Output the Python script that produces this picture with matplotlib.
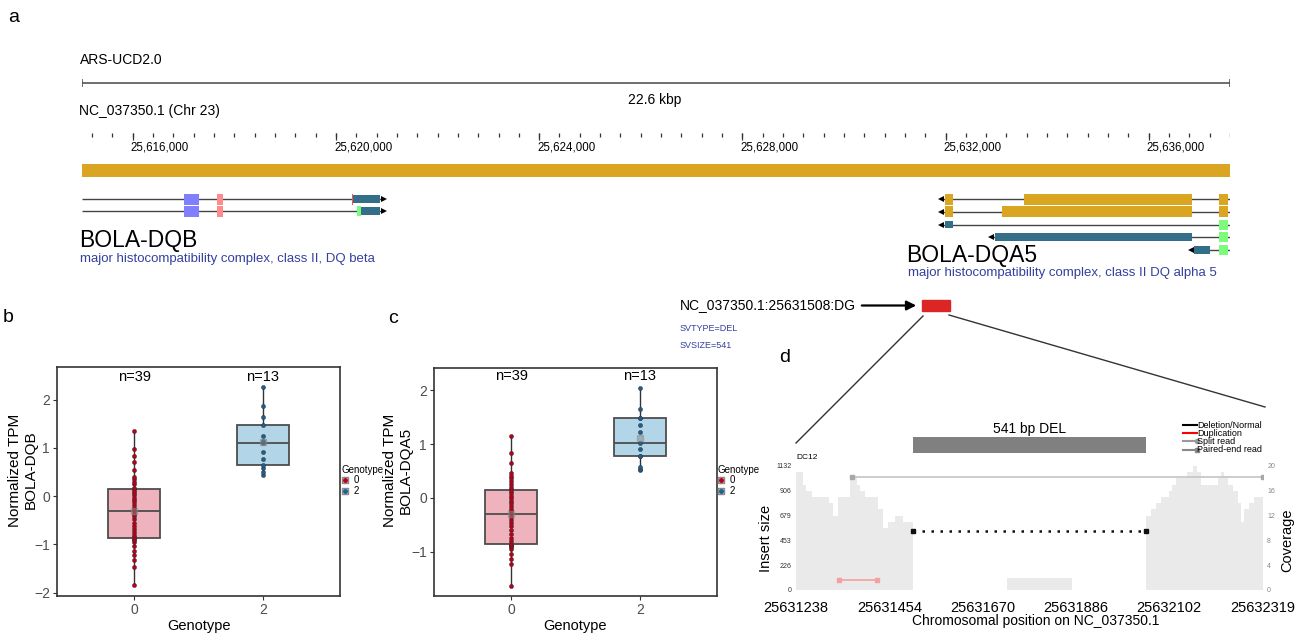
import matplotlib.pyplot as plt
import numpy as np
from matplotlib.lines import Line2D
from matplotlib.patches import Rectangle

plt.rcParams['font.family'] = ['Liberation Sans', 'DejaVu Sans']

W, H = 1297, 637

# ---------------- panel a data (bp) ----------------
assembly = 'ARS-UCD2.0'
chrom_label = 'NC_037350.1 (Chr 23)'
region = (25615000, 25637600)
region_label = '22.6 kbp'
major_ticks = [25616000, 25620000, 25624000, 25628000, 25632000, 25636000]
minor_ticks = np.arange(25615200, 25637601, 400)

# transcripts: (line start, line end, arrow pos, strand, exons[(start, end, kind)])
dqb_transcripts = [
    (25615000, 25620955, 25620955, '+',
     [(25617008, 25617303, 'blue'), (25617658, 25617776, 'pink'),
      (25620310, 25620340, 'red'), (25620340, 25620867, 'teal')]),
    (25615000, 25620955, 25620955, '+',
     [(25617008, 25617303, 'blue'), (25617658, 25617776, 'pink'),
      (25620414, 25620493, 'green'), (25620493, 25620867, 'teal')]),
]
dqa5_transcripts = [
    (25631911, 25637600, 25631911, '-',
     [(25631990, 25632147, 'gold'), (25633545, 25636852, 'gold'), (25637384, 25637561, 'gold')]),
    (25631911, 25637600, 25631911, '-',
     [(25631990, 25632147, 'gold'), (25633112, 25636852, 'gold'), (25637384, 25637561, 'gold')]),
    (25631911, 25637600, 25631911, '-',
     [(25631990, 25632147, 'teal_s'), (25637384, 25637561, 'green')]),
    (25632895, 25637600, 25632895, '-',
     [(25632974, 25636852, 'teal'), (25637384, 25637561, 'green')]),
    (25636832, 25637600, 25636832, '-',
     [(25636891, 25637207, 'teal'), (25637384, 25637561, 'green')]),
]
dqb_name, dqb_desc = 'BOLA-DQB', 'major histocompatibility complex, class II, DQ beta'
dqa5_name, dqa5_desc = 'BOLA-DQA5', 'major histocompatibility complex, class II DQ alpha 5'

# ---------------- panel b / c data ----------------
genotypes = ['0', '2']
dqb_g0 = [-1.85, -1.46, -1.33, -1.22, -1.14, -1.04, -0.95, -0.90, -0.88, -0.87,
          -0.845, -0.80, -0.74, -0.68, -0.62, -0.55, -0.48, -0.42, -0.36, -0.30,
          -0.25, -0.19, -0.13, -0.08, -0.03, 0.02, 0.06, 0.10, 0.14, 0.17,
          0.25, 0.30, 0.35, 0.39, 0.54, 0.71, 0.84, 0.98, 1.36]
dqb_g2 = [0.443, 0.498, 0.58, 0.637, 0.768, 0.913, 1.107, 1.135, 1.245, 1.48,
          1.653, 1.875, 2.27]
dqa5_g0 = [-1.63, -1.23, -1.13, -1.04, -0.95, -0.91, -0.89, -0.88, -0.87, -0.865,
           -0.855, -0.80, -0.74, -0.67, -0.60, -0.53, -0.47, -0.41, -0.35, -0.30,
           -0.25, -0.20, -0.15, -0.10, -0.05, -0.01, 0.04, 0.09, 0.13, 0.16,
           0.21, 0.26, 0.31, 0.36, 0.40, 0.47, 0.64, 0.83, 1.15]
dqa5_g2 = [0.52, 0.545, 0.58, 0.775, 0.78, 0.90, 1.015, 1.23, 1.35, 1.48,
           1.49, 1.645, 2.035]

# ---------------- panel d data ----------------
sv_id = 'NC_037350.1:25631508:DG'
sv_type = 'SVTYPE=DEL'
sv_size = 'SVSIZE=541'
sv_start, sv_end = 25631508, 25632049
sample = 'DC12'
d_xticks = [25631238, 25631454, 25631670, 25631886, 25632102, 25632319]
ins_ticks = [0, 226, 453, 679, 906, 1132]
cov_ticks = [0, 4, 8, 12, 16, 20]
cov_left_edges = [25631238, 25631254, 25631261, 25631275, 25631315, 25631324, 25631335,
                  25631363, 25631380, 25631386, 25631398, 25631428, 25631440, 25631451,
                  25631468, 25631486, 25631509]
cov_left = [19, 17, 16, 15, 14, 12, 15, 18, 17, 16, 15, 13, 10, 11, 12, 11]
cov_mid_edges = [25631727, 25631876]
cov_mid = [2]
cov_right_edges = [25632048, 25632059, 25632071, 25632082, 25632094, 25632102, 25632109,
                   25632117, 25632129, 25632144, 25632156, 25632167, 25632175, 25632191,
                   25632214, 25632222, 25632229, 25632237, 25632249, 25632260, 25632268,
                   25632276, 25632287, 25632299, 25632307, 25632319]
cov_right = [12, 13, 14, 15, 15, 16, 17, 18, 18, 19, 20, 19, 17, 17, 18, 19, 18, 17,
             16, 14, 11, 13, 14, 15, 15]
pe_read = (25631367, 25632318, 1030)
dup_read = (25631338, 25631426, 91)
del_read = (sv_start, sv_end, 541)

# ---------------- styles ----------------
exon_style = {
    'blue': ('#8080FF', 11), 'pink': ('#FF8C8C', 11), 'red': ('#FF5050', 11),
    'teal': ('#336F88', 8), 'teal_s': ('#336F88', 6.5), 'green': ('#7CFC7C', 10),
    'gold': ('#DAA520', 11),
}
fill0, fill2 = '#EFB3BE', '#B3D5E8'
pt0, pt2 = '#B8001C', '#1F5F8F'
blue_txt = '#33409F'

fig = plt.figure(figsize=(W / 100, H / 100), dpi=100)


def px_axes(x0, y0, x1, y1, **kw):
    return fig.add_axes([x0 / W, 1 - y1 / H, (x1 - x0) / W, (y1 - y0) / H], **kw)


def ftext(x, y, s, **kw):
    kw.setdefault('va', 'center')
    return fig.text(x / W, 1 - y / H, s, **kw)


# ---------------- panel a ----------------
ax_a = px_axes(82, 0, 1230, 290)
ax_a.set_xlim(*region)
ax_a.set_ylim(290, 0)
ax_a.axis('off')

ftext(8, 18, 'a', fontsize=14)
ftext(80, 60, assembly, fontsize=10)
ax_a.hlines(83, *region, color='#555555', lw=1.2)
ax_a.vlines(region, 79, 87, color='#555555', lw=1.2)
ftext(655, 100, region_label, fontsize=10, ha='center')
ftext(79, 111, chrom_label, fontsize=10)
ax_a.vlines(minor_ticks, 133.3, 136.7, color='#333333', lw=0.9)
ax_a.vlines(major_ticks, 132.5, 139.5, color='#333333', lw=0.9)
for t in major_ticks:
    ax_a.text(t - 40, 148, f'{t:,}', fontsize=8.3, ha='left', va='center')
ax_a.broken_barh([(region[0], region[1] - region[0])], (164, 12.5), facecolors='#DAA520')


def draw_transcripts(rows, y0, dy):
    for i, (ls, le, ap, strand, exons) in enumerate(rows):
        y = y0 + i * dy
        ax_a.hlines(y, ls, le, color='#444444', lw=1)
        ax_a.plot(ap, y, marker='>' if strand == '+' else '<', color='black', ms=5, mew=0)
        for s, e, kind in exons:
            c, h = exon_style[kind]
            ax_a.broken_barh([(s, e - s)], (y - h / 2, h), facecolors=c, zorder=3)


draw_transcripts(dqb_transcripts, 199, 12)
draw_transcripts(dqa5_transcripts, 199, 12.8)

ftext(79, 240, dqb_name, fontsize=16.5)
ftext(80, 259, dqb_desc, fontsize=9.5, color=blue_txt)
ftext(906, 255, dqa5_name, fontsize=16.5)
ftext(908, 273, dqa5_desc, fontsize=9.5, color=blue_txt)


# ---------------- panels b / c ----------------
def box_panel(box, g0, g2, ylim, yticks, ylabel, ylab_x, letter_xy, leg_xy, n_y):
    ax = px_axes(*box)
    groups = [g0, g2]
    bp = ax.boxplot(groups, positions=[0, 1], widths=0.4, patch_artist=True,
                    showfliers=False, whis=1.5,
                    medianprops=dict(color='#4D4D4D', lw=1.3),
                    whiskerprops=dict(color='#333333', lw=1),
                    capprops=dict(visible=False),
                    boxprops=dict(edgecolor='#4D4D4D', lw=1.3))
    for patch, c in zip(bp['boxes'], [fill0, fill2]):
        patch.set_facecolor(c)
    for pos, vals, c in zip([0, 1], groups, [pt0, pt2]):
        ax.plot([pos] * len(vals), vals, 'o', color=c, ms=3, mec='#333333', mew=0.3, zorder=4)
        ax.plot(pos, np.mean(vals), 's', color='#888888', ms=4.5, alpha=0.5, zorder=5)
        ax.text(pos, n_y, f'n={len(vals)}', transform=ax.get_xaxis_transform(),
                ha='center', va='center', fontsize=10.5)
    ax.set_xlim(-0.6, 1.6)
    ax.set_ylim(*ylim)
    ax.set_yticks(yticks)
    ax.set_xticks([0, 1])
    ax.set_xticklabels(genotypes)
    ax.tick_params(length=3, width=0.8, color='#333333', labelcolor='#4D4D4D',
                   labelsize=10, pad=2)
    for sp in ax.spines.values():
        sp.set_linewidth(1.2)
        sp.set_color('#333333')
    cx = (box[0] + box[2]) / 2
    ftext(cx, 626, 'Genotype', fontsize=10.5, ha='center')
    ftext(ylab_x, 470, ylabel, fontsize=11, ha='center', rotation=90, linespacing=1.1)
    ftext(*letter_xy, fontsize=14)
    handles = [(Line2D([], [], marker='s', ls='', color=fill0, mec='#888888', ms=5),
                Line2D([], [], marker='o', ls='', color=pt0, ms=2.5)),
               (Line2D([], [], marker='s', ls='', color=fill2, mec='#888888', ms=5),
                Line2D([], [], marker='o', ls='', color=pt2, ms=2.5))]
    fig.legend(handles=handles, labels=genotypes, title='Genotype', loc='upper left',
               bbox_to_anchor=(leg_xy[0] / W, 1 - leg_xy[1] / H), frameon=False,
               fontsize=7, title_fontsize=7, handlelength=0.8, handletextpad=0.5,
               labelspacing=0.05, borderpad=0, borderaxespad=0, alignment='left')
    return ax


box_panel((57, 367, 340, 596), dqb_g0, dqb_g2, (-2.07, 2.68), [-2, -1, 0, 1, 2],
          'Normalized TPM\nBOLA-DQB', 23, (3, 318, 'b'), (341, 465), 0.957)
box_panel((434, 368, 717, 596), dqa5_g0, dqa5_g2, (-1.82, 2.41), [-1, 0, 1, 2],
          'Normalized TPM\nBOLA-DQA5', 398, (388, 319, 'c'), (717, 465), 0.963)

# ---------------- overlay: SV marker and zoom lines ----------------
ax_o = px_axes(0, 0, W, H)
ax_o.set_xlim(0, W)
ax_o.set_ylim(H, 0)
ax_o.axis('off')
ax_o.set_zorder(-1)
ftext(680, 305.5, sv_id, fontsize=10)
ftext(680, 328.5, sv_type, fontsize=6.5, color=blue_txt)
ftext(680, 345.5, sv_size, fontsize=6.5, color=blue_txt)
ax_o.annotate('', xy=(919, 305.5), xytext=(859, 305.5),
              arrowprops=dict(arrowstyle='-|>', color='black', lw=1.6, mutation_scale=14))
ax_o.add_patch(Rectangle((922, 300), 28, 11, color='#DC2626'))
ax_o.plot([923, 796], [316, 443], color='#333333', lw=1)
ax_o.plot([949, 1265], [315, 407], color='#333333', lw=1)
ftext(779, 358, 'd', fontsize=14)

# ---------------- panel d ----------------
ax_sv = px_axes(796, 437, 1263, 453)
ax_sv.set_xlim(d_xticks[0], d_xticks[-1])
ax_sv.axis('off')
ax_sv.barh(0, sv_end - sv_start, left=sv_start, height=1, color='#808080')
ax_sv.set_ylim(-0.5, 0.5)
ftext(1030, 429, '541 bp DEL', fontsize=10, ha='center')

ax_ins = px_axes(796, 466, 1263, 590)
ax_cov = ax_ins.twinx()
ax_cov.stairs(cov_left, cov_left_edges, fill=True, color='#EAEAEA')
ax_cov.stairs(cov_mid, cov_mid_edges, fill=True, color='#EAEAEA')
ax_cov.stairs(cov_right, cov_right_edges, fill=True, color='#EAEAEA')
ax_cov.set_ylim(0, 20)
ax_cov.set_yticks(cov_ticks)
ax_cov.tick_params(axis='y', length=0, labelsize=5, pad=3, labelcolor='#888888')
ax_ins.set_zorder(ax_cov.get_zorder() + 1)
ax_ins.patch.set_visible(False)

ax_ins.plot(pe_read[:2], [pe_read[2]] * 2, color='#C8C8C8', lw=1.3,
            marker='s', ms=3.5, mfc='#A8A8A8', mec='#A8A8A8')
ax_ins.plot(dup_read[:2], [dup_read[2]] * 2, color='#F4A0A0', lw=1.2,
            marker='s', ms=3.5, mfc='#F4A0A0', mec='#F4A0A0')
ax_ins.plot(del_read[:2], [del_read[2]] * 2, color='#111111', lw=1.8, ls=(0, (1, 2.6)))
ax_ins.plot(del_read[:2], [del_read[2]] * 2, ls='', marker='s', ms=3.5, color='#111111')
ax_ins.set_xlim(d_xticks[0], d_xticks[-1])
ax_ins.set_ylim(0, ins_ticks[-1])
ax_ins.set_yticks(ins_ticks)
ax_ins.set_xticks(d_xticks)
ax_ins.set_xticklabels([str(t) for t in d_xticks])
ax_ins.tick_params(axis='y', length=0, labelsize=5, pad=3, labelcolor='#333333')
ax_ins.tick_params(axis='x', length=0, labelsize=10.5, pad=8)
for a in (ax_ins, ax_cov):
    for sp in a.spines.values():
        sp.set_visible(False)
ax_ins.text(0, 1.07, sample, transform=ax_ins.transAxes, fontsize=6, va='center')
ftext(766, 538, 'Insert size', fontsize=10.5, ha='center', rotation=90)
ftext(1287, 540, 'Coverage', fontsize=10.5, ha='center', rotation=90)
ftext(1036, 621, 'Chromosomal position on NC_037350.1', fontsize=10, ha='center')

# legend of panel d
leg_rows = [('Deletion/Normal', 'black', None), ('Duplication', 'red', None),
            ('Split read', '#999999', 'o'), ('Paired-end read', '#888888', 's')]
for i, (lab, c, m) in enumerate(leg_rows):
    y = 425 + i * 8.2
    ax_o.plot([1183, 1197], [y, y], color=c, lw=1.5, marker=m, ms=3, markevery=[1] if m else None)
    ftext(1197, y, lab, fontsize=6.5)

fig.savefig('out.png', dpi=100)
